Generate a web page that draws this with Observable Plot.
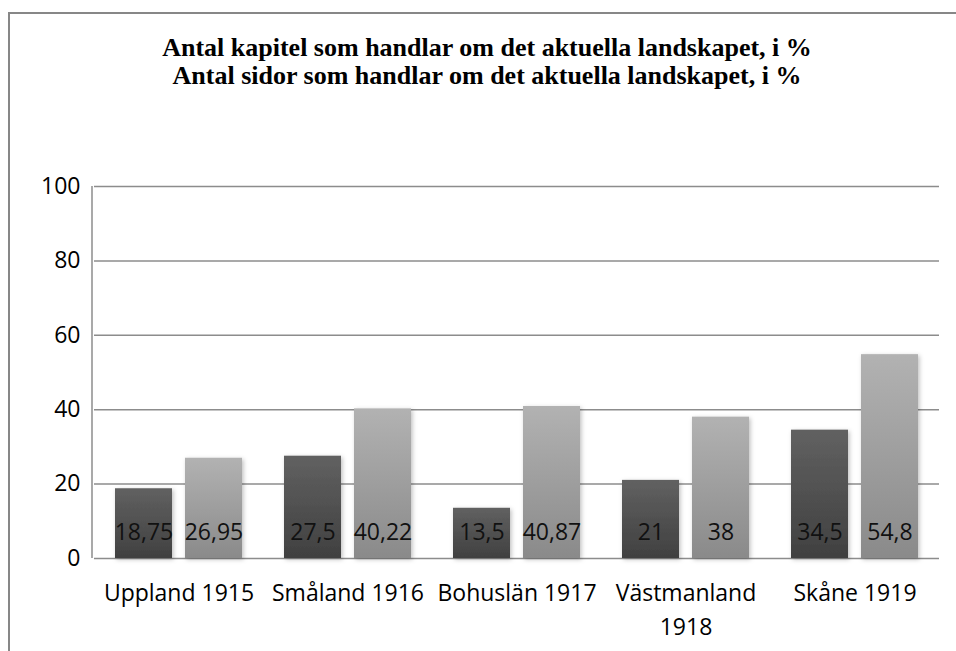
<!DOCTYPE html>
<html>
<head>
<meta charset="utf-8">
<script src="https://cdn.jsdelivr.net/npm/d3@7"></script>
<script src="https://cdn.jsdelivr.net/npm/@observablehq/plot@0.6"></script>
<style>
  html, body { margin: 0; padding: 0; background: #fff; }
  #wrap { position: relative; width: 956px; height: 651px; overflow: hidden; background: #fff; }
  #frame { position: absolute; left: 8px; top: 12px; width: 1100px; height: 1000px; border: 2px solid #878787; box-sizing: border-box; }
  #title { position: absolute; left: 0; width: 974px; top: 34px; text-align: center;
           font-family: "Liberation Serif", "Times New Roman", serif; font-weight: bold; font-size: 26px; line-height: 28px; color: #000; }
  #chart { position: absolute; left: 0; top: 0; }
</style>
</head>
<body>
<div id="wrap">
  <div id="frame"></div>
  <div id="title"><div>Antal kapitel som handlar om det aktuella landskapet, i %</div><div>Antal sidor som handlar om det aktuella landskapet, i %</div></div>
  <div id="chart"></div>
</div>
<script>
const categories = ["Uppland 1915", "Småland 1916", "Bohuslän 1917", "Västmanland\n1918", "Skåne 1919"];
const kapitel = [18.75, 27.5, 13.5, 21, 34.5];
const sidor = [26.95, 40.22, 40.87, 38, 54.8];
const yTicks = [0, 20, 40, 60, 80, 100];

const data = [];
categories.forEach((c, i) => {
  data.push({cat: c, series: "kapitel", value: kapitel[i]});
  data.push({cat: c, series: "sidor", value: sidor[i]});
});
const fmt = v => String(v).replace(".", ",");
const FONT = "Open Sans";

const plot = Plot.plot({
  width: 956,
  height: 651,
  marginLeft: 92,
  marginRight: 16,
  marginTop: 186,
  marginBottom: 93,
  style: {fontFamily: FONT, fontSize: "23px", color: "#000", background: "transparent", overflow: "visible"},
  fx: {domain: categories, padding: 0, label: null},
  x: {domain: ["kapitel", "sidor"], paddingInner: 0.183, paddingOuter: 0.286, axis: null},
  y: {domain: [0, 100], ticks: yTicks, label: null},
  marks: [
    Plot.ruleY(yTicks, {stroke: "#8c8c8c", strokeWidth: 1.5, strokeOpacity: 1}),
    Plot.barY(data, {fx: "cat", x: "series", y: "value",
      fill: d => d.series === "kapitel" ? "url(#gDark)" : "url(#gLight)",
      render: (i, s, v, d, c, next) => { const g = next(i, s, v, d, c); g.setAttribute("filter", "url(#shadow)"); return g; }}),
    Plot.text(data, {fx: "cat", x: "series", y: 0, text: d => fmt(d.value), dy: -19,
      fill: "#111", fontSize: 23, fontFamily: FONT, lineAnchor: "bottom"}),
    Plot.axisY(yTicks, {tickSize: 0, tickPadding: 14, fontSize: 23, fill: "#000", label: null}),
    Plot.axisFx({anchor: "bottom", tickSize: 0, tickPadding: 19, fontSize: 23, fill: "#000",
      lineHeight: 1.45, lineAnchor: "top", label: null})
  ]
});

// gradients, shadow and the left axis line
const svg = d3.select(plot);
const defs = svg.insert("defs", ":first-child");
const gd = defs.append("linearGradient").attr("id", "gDark").attr("x1", 0).attr("y1", 0).attr("x2", 0).attr("y2", 1);
gd.append("stop").attr("offset", "0%").attr("stop-color", "#616161");
gd.append("stop").attr("offset", "100%").attr("stop-color", "#404040");
const gl = defs.append("linearGradient").attr("id", "gLight").attr("x1", 0).attr("y1", 0).attr("x2", 0).attr("y2", 1);
gl.append("stop").attr("offset", "0%").attr("stop-color", "#b2b2b2");
gl.append("stop").attr("offset", "100%").attr("stop-color", "#8a8a8a");
const f = defs.append("filter").attr("id", "shadow").attr("x", "-20%").attr("y", "-10%").attr("width", "140%").attr("height", "130%");
f.append("feDropShadow").attr("dx", 1.5).attr("dy", 1.5).attr("stdDeviation", 2).attr("flood-color", "#000").attr("flood-opacity", 0.25);
const yS = plot.scale("y");
svg.append("line")
  .attr("x1", 92).attr("x2", 92)
  .attr("y1", yS.apply(100)).attr("y2", yS.apply(0))
  .attr("stroke", "#8c8c8c").attr("stroke-width", 1.5);

document.getElementById("chart").appendChild(plot);
</script>
</body>
</html>
